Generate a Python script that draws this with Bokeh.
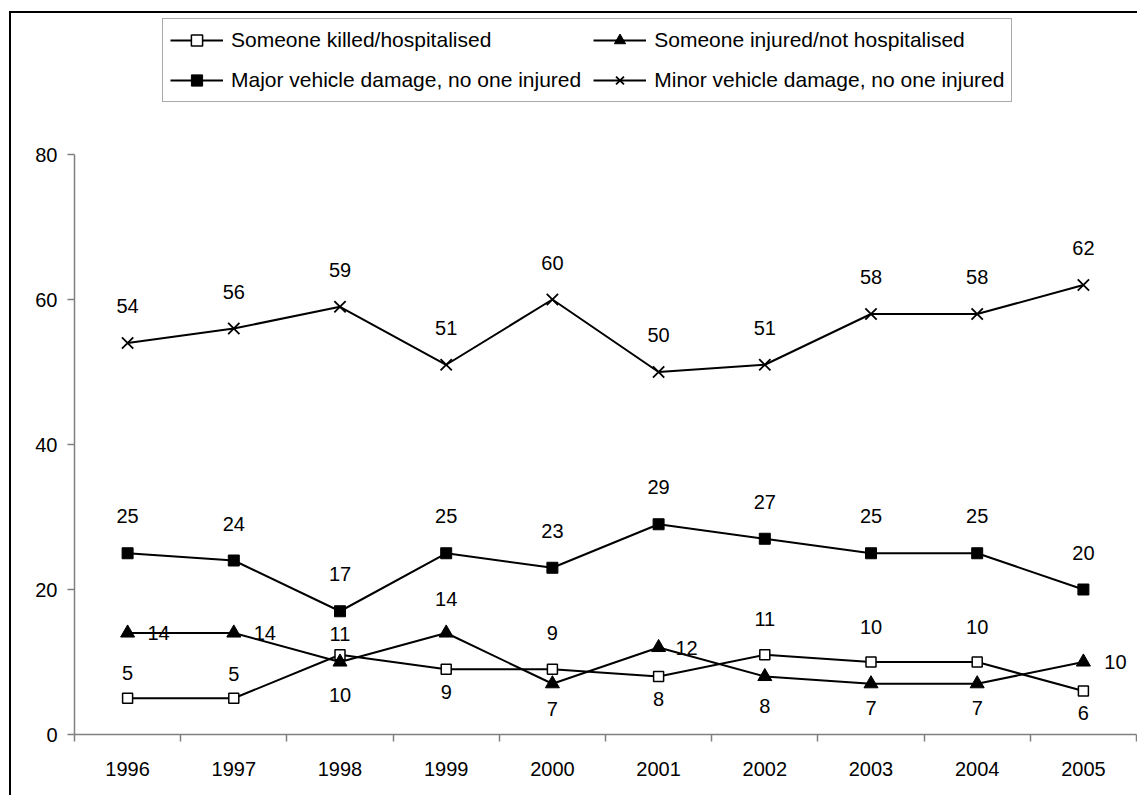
from bokeh.plotting import figure
from bokeh.models import ColumnDataSource, Legend, LegendItem, FixedTicker, Range1d
from bokeh.core.properties import value
from bokeh.embed import file_html
from bokeh.resources import INLINE

# ---------------- data ----------------
years = [1996, 1997, 1998, 1999, 2000, 2001, 2002, 2003, 2004, 2005]
year_labels = ["1996", "1997", "1998", "1999", "2000", "2001", "2002", "2003", "2004", "2005"]
y_ticks = [0, 20, 40, 60, 80]

killed = [5, 5, 11, 9, 9, 8, 11, 10, 10, 6]
injured = [14, 14, 10, 14, 7, 12, 8, 7, 7, 10]
major = [25, 24, 17, 25, 23, 29, 27, 25, 25, 20]
minor = [54, 56, 59, 51, 60, 50, 51, 58, 58, 62]

names = [
    "Someone killed/hospitalised",
    "Someone injured/not hospitalised",
    "Major vehicle damage, no one injured",
    "Minor vehicle damage, no one injured",
]

# label placement (pixels; dy positive = upwards)
killed_dx = [0, 0, 0, 0, 0, 0, 0, 0, 0, 0]
killed_dy = [25, 24, 21, -23, 36, -22, 36, 35, 35, -22]
injured_dx = [31, 31, 0, 0, 0, 28, 0, 0, 0, 32]
injured_dy = [0, 0, -33, 34, -25, 0, -29, -24, -24, 0]
major_dx = [0] * 10
major_dy = [37] * 10
minor_dx = [0] * 10
minor_dy = [37] * 10

FONT = "Liberation Sans"

p = figure(
    width=1128, height=784,
    x_range=Range1d(1995.5, 2005.5), y_range=Range1d(0, 99.45),
    output_backend="svg", toolbar_location=None,
    min_border_left=63, min_border_right=3, min_border_top=0, min_border_bottom=63,
)
p.styles = {"border-left": "2px solid black", "border-top": "2px solid black"}
p.margin = (11, 0, 0, 9)
p.grid.visible = False
p.outline_line_color = None
p.background_fill_color = "white"
p.border_fill_color = "white"

# axes
ax = p.xaxis[0]
ax.ticker = FixedTicker(ticks=years, minor_ticks=[y - 0.5 for y in years] + [years[-1] + 0.5])
ax.major_label_overrides = {y: l for y, l in zip(years, year_labels)}
ax.bounds = (1995.5, 2005.5)
ax.axis_line_color = "#808080"
ax.axis_line_width = 1.5
ax.major_tick_out = 0
ax.major_tick_in = 0
ax.minor_tick_out = 7
ax.minor_tick_in = 0
ax.minor_tick_line_color = "#808080"
ax.minor_tick_line_width = 1.5
ax.major_label_standoff = 20
ax.major_label_text_font = FONT
ax.major_label_text_font_size = "20px"
ax.major_label_text_color = "black"

ay = p.yaxis[0]
ay.ticker = FixedTicker(ticks=y_ticks, minor_ticks=[])
ay.bounds = (0, 80)
ay.axis_line_color = "#808080"
ay.axis_line_width = 1.5
ay.major_tick_out = 7
ay.major_tick_in = 0
ay.major_tick_line_color = "#808080"
ay.major_tick_line_width = 1.5
ay.minor_tick_out = 0
ay.minor_tick_in = 0
ay.major_label_standoff = 10
ay.major_label_text_font = FONT
ay.major_label_text_font_size = "20px"
ay.major_label_text_color = "black"

series = [
    (names[0], killed, dict(marker="square", size=10, fill_color="white", line_color="black", line_width=1.5), killed_dx, killed_dy),
    (names[1], injured, dict(marker="triangle", size=14, fill_color="black", line_color="black", line_width=1), injured_dx, injured_dy),
    (names[2], major, dict(marker="square", size=11, fill_color="black", line_color="black", line_width=1), major_dx, major_dy),
    (names[3], minor, dict(marker="x", size=16, line_color="black", line_width=1.8), minor_dx, minor_dy),
]

items = []
for name, vals, mk, dx, dy in series:
    src = ColumnDataSource(dict(
        x=years, y=vals, lab=[str(v) for v in vals],
        dx=dx, dy=[-d for d in dy],
    ))
    ln = p.line("x", "y", source=src, line_color="black", line_width=2)
    sc = p.scatter("x", "y", source=src, **mk)
    p.text("x", "y", text="lab", source=src, x_offset="dx", y_offset="dy",
           text_align="center", text_baseline="middle",
           text_font=value(FONT), text_font_size="20px", text_color="black")
    items.append(LegendItem(label=name, renderers=[ln, sc]))

legend = Legend(
    items=items, location=(88, 632), orientation="horizontal", ncols=2,
    glyph_width=53, glyph_height=28, label_standoff=8, label_height=28,
    spacing=12, padding=7, margin=0,
    border_line_color="#555555", border_line_width=1,
    label_text_font=FONT, label_text_font_size="21px", label_text_color="black",
    background_fill_color="white", background_fill_alpha=1,
)
p.add_layout(legend)

open("out.html", "w").write(file_html(p, INLINE))
